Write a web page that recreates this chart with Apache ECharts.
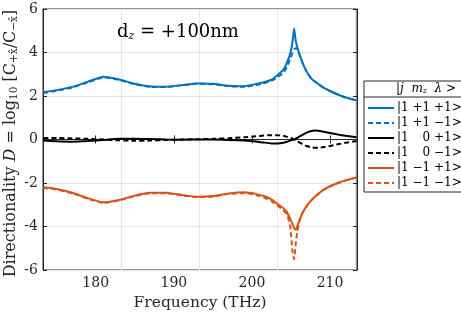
<!DOCTYPE html>
<html><head><meta charset="utf-8">
<script src="https://cdn.jsdelivr.net/npm/echarts@6/dist/echarts.min.js"></script>
<style>html,body{margin:0;padding:0;background:#fff}#c{width:461px;height:316px}</style>
</head><body><div id="c"></div>
<script>
const freq = [173.3,175,177,179,181,183,185,187,189,191,193,195,197,199,200.5,201.5,202.5,203.3,204,204.5,204.9,205.2,205.4,205.6,205.8,206.1,206.5,207,207.5,208,208.5,209,210,211,212,213.4];
const blueSolid  = [2.17,2.27,2.42,2.66,2.88,2.76,2.56,2.44,2.43,2.5,2.58,2.56,2.47,2.45,2.55,2.63,2.75,2.97,3.2,3.55,3.95,4.5,5.1,4.55,4.25,3.9,3.5,3.12,2.85,2.68,2.55,2.42,2.23,2.07,1.93,1.8];
const blueDash   = [2.14,2.24,2.39,2.63,2.85,2.74,2.54,2.42,2.41,2.49,2.57,2.54,2.45,2.42,2.5,2.58,2.7,2.88,3.05,3.35,3.7,4.0,4.15,4.2,4.15,3.9,3.5,3.12,2.85,2.68,2.55,2.42,2.23,2.07,1.93,1.8];
const blackSolid = [-0.05,-0.08,-0.1,-0.07,-0.02,0.03,0.04,0.02,0.0,-0.01,0.0,0.0,-0.02,-0.05,-0.09,-0.14,-0.18,-0.18,-0.15,-0.1,-0.05,-0.02,0.0,0.04,0.08,0.14,0.22,0.32,0.38,0.41,0.4,0.37,0.3,0.23,0.17,0.1];
const blackDash  = [0.07,0.07,0.05,0.03,0.0,-0.04,-0.06,-0.05,-0.02,0.0,0.01,0.03,0.06,0.1,0.15,0.18,0.2,0.2,0.17,0.12,0.08,0.04,0.01,-0.03,-0.08,-0.14,-0.22,-0.3,-0.35,-0.38,-0.38,-0.36,-0.3,-0.22,-0.15,-0.07];
const orangeSolid= [-2.2,-2.28,-2.45,-2.7,-2.89,-2.78,-2.58,-2.45,-2.45,-2.55,-2.63,-2.6,-2.48,-2.43,-2.5,-2.6,-2.75,-2.97,-3.15,-3.35,-3.65,-3.9,-4.08,-4.15,-4.0,-3.7,-3.35,-3.07,-2.83,-2.65,-2.5,-2.35,-2.15,-2.0,-1.88,-1.74];
const orangeDash = [-2.22,-2.3,-2.47,-2.72,-2.92,-2.8,-2.6,-2.47,-2.47,-2.57,-2.65,-2.62,-2.5,-2.47,-2.55,-2.66,-2.83,-3.05,-3.25,-3.45,-4.0,-5.2,-5.5,-4.8,-4.25,-3.75,-3.35,-3.07,-2.83,-2.65,-2.5,-2.35,-2.15,-2.0,-1.88,-1.74];
const seriesNames = ['|1 +1 +1>','|1 +1 \u22121>','|1 \u2007\u20090 +1>','|1 \u2007\u20090 \u22121>','|1 \u22121 +1>','|1 \u22121 \u22121>'];
const yTicks = [-6,-4,-2,0,2,4,6];
const xTicks = [180,190,200,210];

const SERIF = '"DejaVu Serif","Liberation Serif",serif';
const BLUE = '#0072BD', ORANGE = '#D95319', BLACK = '#000000';
const sets = [
  [blueSolid, BLUE, 'solid'], [blueDash, BLUE, 'dashed'],
  [blackSolid, BLACK, 'solid'], [blackDash, BLACK, 'dashed'],
  [orangeSolid, ORANGE, 'solid'], [orangeDash, ORANGE, 'dashed']
];
const series = sets.map((s, i) => ({
  name: seriesNames[i], type: 'line', showSymbol: false, symbol: 'none',
  smooth: 0.15, xAxisIndex: 0, yAxisIndex: 0,
  data: freq.map((f, k) => [f, s[0][k]]),
  lineStyle: { color: s[1], width: 2, type: s[2] === 'dashed' ? [5, 3] : 'solid' },
  itemStyle: { color: s[1] }, z: 10 - i
}));

const chart = echarts.init(document.getElementById('c'), null, { renderer: 'canvas' });
const axisCol = '#262626';
chart.setOption({
  animation: false,
  grid: { left: 43, top: 9, right: 104, bottom: 46, show: true, borderColor: axisCol, borderWidth: 1,
          containLabel: false, outerBoundsMode: 'none' },
  xAxis: [{
    type: 'value', min: 173.25, max: 213.45, position: 'bottom',
    axisLine: { show: true, lineStyle: { color: axisCol } },
    axisTick: { show: true, inside: true, length: 4, lineStyle: { color: axisCol }, customValues: xTicks },
    axisLabel: { customValues: xTicks, color: '#262626', fontFamily: SERIF, fontSize: 14, margin: 6 },
    splitLine: { show: false },
    name: 'Frequency (THz)', nameLocation: 'middle', nameGap: 25,
    nameTextStyle: { fontFamily: SERIF, fontSize: 15.5, color: '#262626' }
  }, {
    type: 'value', min: 173.25, max: 213.45, position: 'top',
    axisLine: { show: true, lineStyle: { color: axisCol } },
    axisTick: { show: true, inside: true, length: 4, lineStyle: { color: axisCol }, customValues: xTicks },
    axisLabel: { show: false },
    splitLine: { show: false }
  }, {
    type: 'value', min: 173.25, max: 213.45, position: 'bottom', show: true,
    axisLine: { show: false }, axisTick: { show: false }, axisLabel: { show: false },
    splitLine: { show: true, lineStyle: { color: '#e6e6e6', width: 1 } },
    interval: 10
  }],
  yAxis: [{
    type: 'value', min: -6, max: 6, interval: 2, position: 'left',
    axisLine: { show: true, lineStyle: { color: axisCol } },
    axisTick: { show: true, inside: true, length: 4, lineStyle: { color: axisCol } },
    axisLabel: { color: '#262626', fontFamily: SERIF, fontSize: 14, margin: 5 },
    splitLine: { show: true, lineStyle: { color: '#e6e6e6', width: 1 } }
  }, {
    type: 'value', min: -6, max: 6, interval: 2, position: 'right',
    axisLine: { show: true, lineStyle: { color: axisCol } },
    axisTick: { show: true, inside: true, length: 4, lineStyle: { color: axisCol } },
    axisLabel: { show: false }, splitLine: { show: false }
  }],
  legend: {
    orient: 'vertical', left: 364, top: 81, itemWidth: 26, itemHeight: 13, itemGap: 3,
    padding: [21, 2, 3, 3], borderColor: axisCol, borderWidth: 1, backgroundColor: '#fff',
    itemStyle: { opacity: 0, borderWidth: 0 },
    textStyle: { fontFamily: SERIF, fontSize: 12, color: '#000', padding: [0, 0, 0, -2] },
    data: seriesNames, selectedMode: false
  },
  graphic: [
    { type: 'text', x: 11, y: 143.5, rotation: Math.PI / 2, z: 200,
      style: { text: 'Directionality {i|D} = log{s|10} [C{s|+x\u0302}/C{s|\u2212x\u0302}]',
        font: '16px ' + SERIF, fill: '#262626', align: 'center', verticalAlign: 'middle',
        rich: { i: { fontFamily: SERIF, fontStyle: 'italic', fontSize: 16 },
                s: { fontFamily: SERIF, fontSize: 10.5, verticalAlign: 'bottom', padding: [7, 0, 0, 0] } } } },
    { type: 'line', shape: { x1: 364, y1: 97, x2: 461, y2: 97 }, style: { stroke: axisCol, lineWidth: 1 }, z: 200 },
    { type: 'text', left: 396, top: 83, z: 200,
      style: { text: '|{i|j}  {i|m}{s|z}  {i|\u03bb} >', font: '12px ' + SERIF, fill: '#000',
        rich: { i: { fontFamily: SERIF, fontStyle: 'italic', fontSize: 12 }, s: { fontFamily: SERIF, fontStyle: 'italic', fontSize: 8, verticalAlign: 'bottom', padding: [4,0,0,0] } } } },
    { type: 'text', left: 117, top: 23, z: 200,
      style: { text: 'd{s|z} = +100nm', font: '18px ' + SERIF, fill: '#000',
        rich: { s: { fontFamily: SERIF, fontStyle: 'italic', fontSize: 11, verticalAlign: 'bottom', padding: [8,0,0,0] } } } }
  ],
  series: series
});
</script></body></html>
